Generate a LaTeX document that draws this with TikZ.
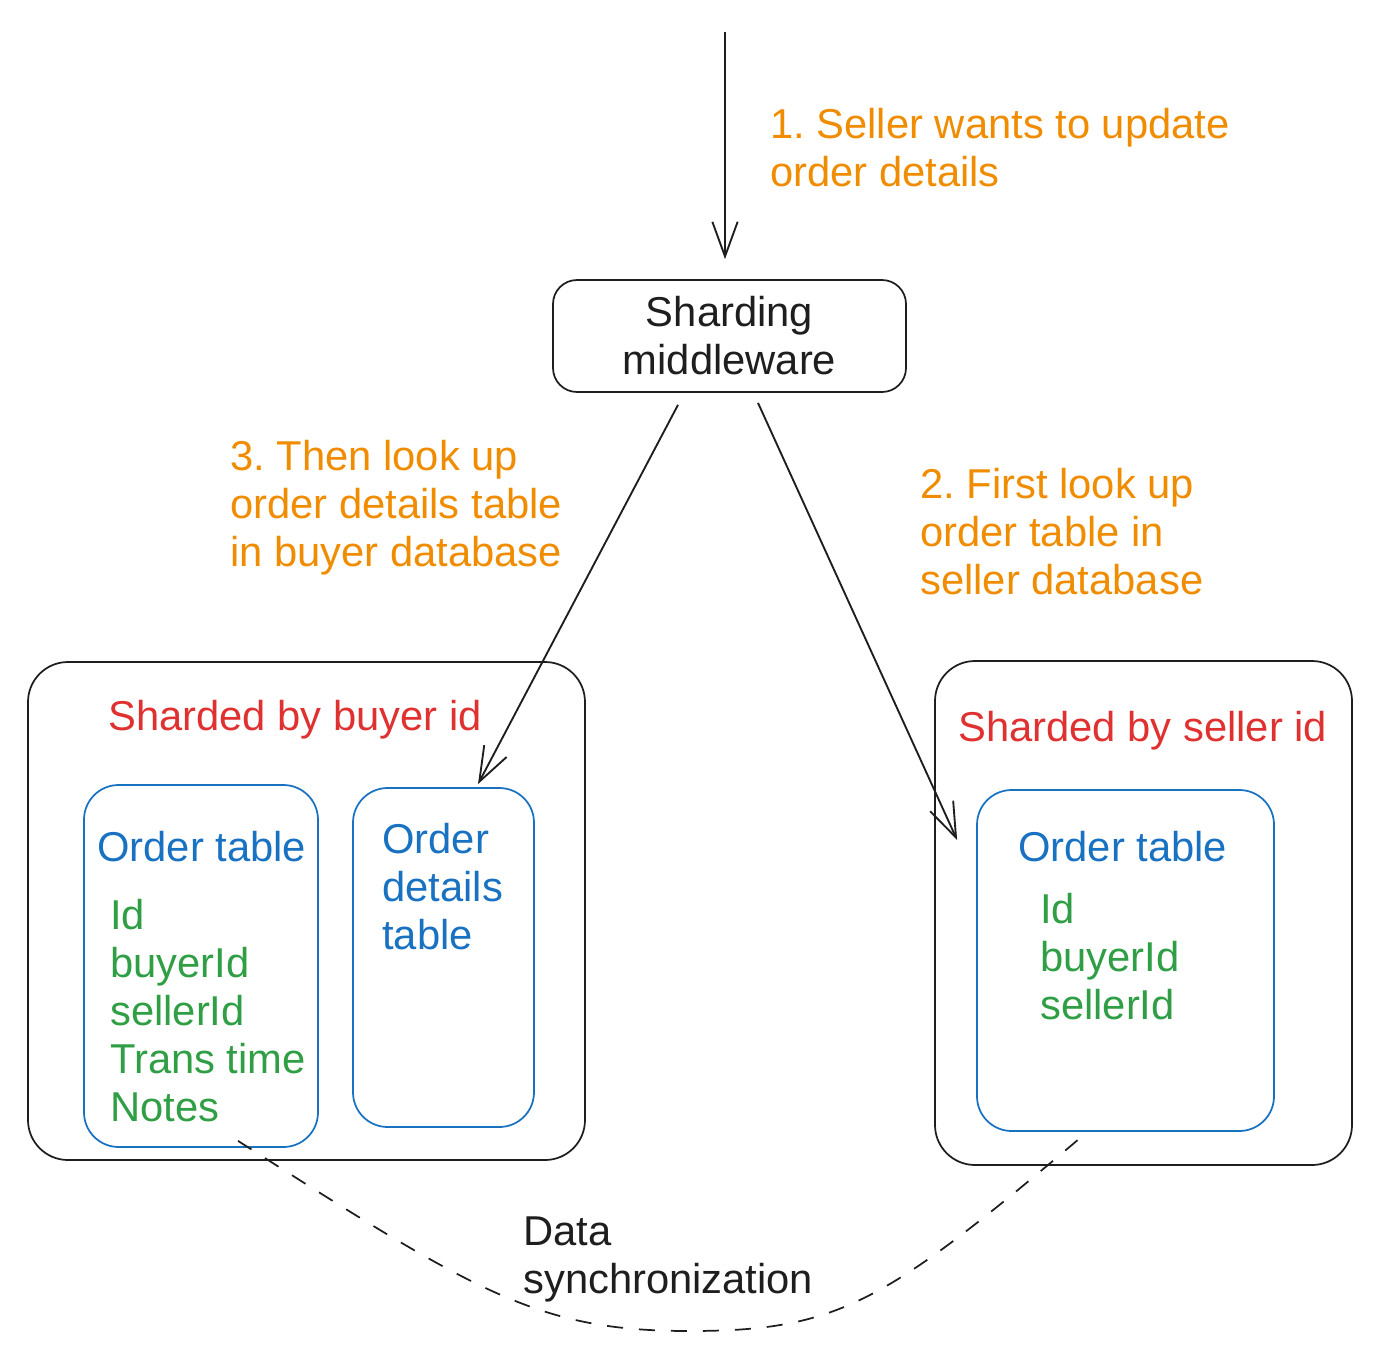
\documentclass[tikz,border=0pt]{standalone}
\usepackage{fontspec}
\setmainfont{Liberation Sans}
\usepackage{xcolor}
\usetikzlibrary{arrows.meta, positioning, calc}
\frenchspacing

\definecolor{inkblack}{HTML}{1E1E1E}
\definecolor{stepor}{HTML}{F08C00}
\definecolor{shardred}{HTML}{E03131}
\definecolor{tableblue}{HTML}{1971C2}
\definecolor{fieldgreen}{HTML}{2F9E44}

\begin{document}
\begin{tikzpicture}[
    x=0.75pt, y=-0.75pt,
    txt/.style={inner sep=0pt, align=left, anchor=base west, font=\fontsize{31.3}{36}\selectfont},
    box/.style={rectangle, draw=inkblack, line width=1.3pt, rounded corners=30pt},
    tbl/.style={rectangle, draw=tableblue, line width=1.3pt, rounded corners=26pt},
    arr/.style={-{Straight Barb[length=26pt, width=19pt, line width=1.4pt]}, line width=1.4pt, inkblack},
    syncline/.style={dashed, dash pattern=on 12pt off 12pt, line width=1.3pt, inkblack},
]
    \useasboundingbox (0,0) rectangle (1390,1360);

    % Middleware
    \node[box, minimum width=353*0.75pt, minimum height=112*0.75pt, rounded corners=18pt,
          align=center, font=\fontsize{31.3}{36}\selectfont, text=inkblack] (mw) at (729.5,336) {Sharding\\middleware};
    \coordinate (client) at (725,32);

    % Buyer side database
    \node[box, minimum width=557*0.75pt, minimum height=498*0.75pt] (buyerdb) at (306.5,911) {};
    \node[tbl, minimum width=234*0.75pt, minimum height=362*0.75pt] (buyerorder) at (201,966) {};
    \node[tbl, minimum width=181*0.75pt, minimum height=339*0.75pt] (details) at (443.5,957.5) {};

    % Seller side database
    \node[box, minimum width=417*0.75pt, minimum height=504*0.75pt] (sellerdb) at (1143.5,913) {};
    \node[tbl, minimum width=297*0.75pt, minimum height=341*0.75pt] (sellerorder) at (1125.5,960.5) {};

    % Labels (base anchor sits on the last line)
    \node[txt, text=stepor] (step1) at (770,186) {1. Seller wants to update\\order details};
    \node[txt, text=stepor] (step3) at (230,566) {3. Then look up\\order details table\\in buyer database};
    \node[txt, text=stepor] (step2) at (920,594) {2. First look up\\order table in\\seller database};

    \node[txt, text=shardred] (buyerlbl) at (108,730) {Sharded by buyer id};
    \node[txt, text=tableblue] (buyerttl) at (97,861) {Order table};
    \node[txt, text=fieldgreen] (buyerfld) at (110,1121) {Id\\buyerId\\sellerId\\Trans time\\Notes};
    \node[txt, text=tableblue] (detailsttl) at (382,949) {Order\\details\\table};

    \node[txt, text=shardred] (sellerlbl) at (958,741) {Sharded by seller id};
    \node[txt, text=tableblue] (sellerttl) at (1018,861) {Order table};
    \node[txt, text=fieldgreen] (sellerfld) at (1040,1019) {Id\\buyerId\\sellerId};

    \node[txt, text=inkblack] (synclbl) at (523,1293) {Data\\synchronization};

    % --- Arrows ---
    \draw[arr] (client) -- ($(mw.north)+(-4.5,-20)$);
    \draw[arr] ($(mw.south)+(-51.5,12)$) -- ($(details.north)+(34.5,-3)$);
    \draw[arr] ($(mw.south)+(28.5,10)$) -- ($(sellerorder.west)+(-19,-120.5)$);

    % Sync between the two order tables
    \coordinate (syncbottom) at (689,1331);
    \draw[syncline] ($(buyerorder.south)+(37,-7)$) .. controls (478,1294) and (539,1331) .. (syncbottom)
        .. controls (839,1331) and (885,1303) .. ($(sellerorder.south)+(-40.5,2)$);

\end{tikzpicture}
\end{document}
